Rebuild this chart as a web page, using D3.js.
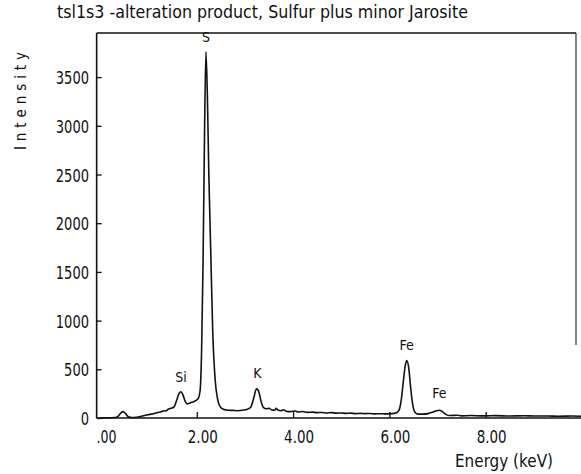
<!DOCTYPE html>
<html><head><meta charset="utf-8">
<script src="https://cdn.jsdelivr.net/npm/d3@7"></script>
<style>
html,body{margin:0;padding:0;background:#fff;}
text{font-family:"Liberation Sans Narrow","DejaVu Sans Condensed","DejaVu Sans",sans-serif;fill:#111;}
</style></head>
<body>
<svg id="chart" width="581" height="474"></svg>
<script>
const energy = [0.0,0.1,0.2,0.3,0.36,0.42,0.47,0.52,0.58,0.65,0.75,0.85,0.95,1.05,1.10,1.15,1.24,1.32,1.36,1.40,1.46,1.52,1.58,1.63,1.67,1.71,1.76,1.80,1.86,1.92,1.98,2.03,2.07,2.10,2.13,2.16,2.19,2.22,2.25,2.29,2.33,2.38,2.43,2.48,2.55,2.65,2.75,2.85,2.95,3.05,3.12,3.18,3.24,3.28,3.33,3.38,3.45,3.50,3.55,3.62,3.65,3.68,3.75,3.80,3.85,3.95,4.05,4.1,4.2,4.3,4.4,4.5,4.6,4.7,4.8,4.9,5.0,5.1,5.2,5.3,5.4,5.5,5.6,5.7,5.8,5.9,6.05,6.15,6.20,6.25,6.29,6.33,6.36,6.40,6.44,6.48,6.53,6.6,6.7,6.8,6.9,6.98,7.04,7.10,7.18,7.25,7.4,7.5,7.7,7.9,8.0,8.2,8.5,8.8,9.0,9.3,9.5,9.8,10.0];
const counts = [2,2,3,5,15,50,65,45,12,5,8,18,30,40,44,52,62,75,72,88,100,110,180,250,270,240,170,145,155,165,180,200,290,700,1600,2900,3760,3300,2500,1700,900,400,200,120,90,80,78,75,80,90,110,200,300,280,180,110,95,100,85,80,100,82,75,85,70,65,72,62,66,58,60,55,57,52,55,50,52,48,50,45,47,45,46,42,44,42,45,55,80,200,380,540,590,520,320,150,60,40,40,45,60,75,80,65,35,25,28,22,25,22,22,24,20,23,20,21,18,20,18];
const yTicks = [0,500,1000,1500,2000,2500,3000,3500];
const xTicks = [0,2,4,6,8];
const xTickLabels = [".00","2.00","4.00","6.00","8.00"];
const peakNames = ["S","Si","K","Fe","Fe"];
const peakEnergy = [2.19,1.67,3.26,6.36,7.04];
const peakCounts = [3760,270,300,590,80];

const svg = d3.select("#chart");
const x = d3.scaleLinear().domain([0,10]).range([100.5,582]);
const y = d3.scaleLinear().domain([0,4000]).range([418,28.4]);

const fLeft = x(-0.08), fRight = 576, fTop = 33, fBottom = y(0);

// frame
svg.append("line").attr("x1",fLeft).attr("x2",fLeft).attr("y1",fTop).attr("y2",fBottom).attr("stroke","#111").attr("stroke-width",1.6);
svg.append("line").attr("x1",fLeft).attr("x2",fRight).attr("y1",fTop).attr("y2",fTop).attr("stroke","#111").attr("stroke-width",1.6);
svg.append("line").attr("x1",fRight).attr("x2",fRight).attr("y1",fTop).attr("y2",345).attr("stroke","#333").attr("stroke-width",1.2);
svg.append("line").attr("x1",fLeft).attr("x2",581).attr("y1",fBottom).attr("y2",fBottom).attr("stroke","#111").attr("stroke-width",1.6);

// y ticks (inside)
const yAxis = d3.axisRight(y).tickValues(yTicks).tickSize(5).tickFormat("");
const gy = svg.append("g").attr("transform",`translate(${fLeft},0)`).call(yAxis);
gy.select(".domain").remove();
gy.selectAll("line").attr("stroke","#111").attr("stroke-width",1.3);
svg.selectAll(".ylab").data(yTicks).enter().append("text")
  .attr("x",89).attr("y",d=>y(d)+7).attr("text-anchor","end")
  .attr("font-size",17)
  .attr("textLength",d=>String(d).length*8.3).attr("lengthAdjust","spacingAndGlyphs")
  .text(d=>d);

// x ticks (inside, upward)
const xAxis = d3.axisTop(x).tickValues(xTicks.slice(1)).tickSize(6).tickFormat("");
const gx = svg.append("g").attr("transform",`translate(0,${fBottom})`).call(xAxis);
gx.select(".domain").remove();
gx.selectAll("line").attr("stroke","#111").attr("stroke-width",1.3);
svg.selectAll(".xlab").data(xTicks).enter().append("text")
  .attr("x",d=>x(d)+6).attr("y",443).attr("text-anchor","middle")
  .attr("font-size",17)
  .attr("textLength",(d,i)=>xTickLabels[i].length===3?20:30).attr("lengthAdjust","spacingAndGlyphs")
  .text((d,i)=>xTickLabels[i]);

// spectrum
const data = energy.map((e,i)=>({e, c:counts[i]}));
const line = d3.line().x(d=>x(d.e)).y(d=>y(d.c)).curve(d3.curveMonotoneX);
svg.append("path").datum(data).attr("d",line).attr("fill","none").attr("stroke","#111").attr("stroke-width",1.6);

// peak labels
const labBase = [42,382,378,350,398];
svg.selectAll(".pk").data(peakNames).enter().append("text")
  .attr("x",(d,i)=>x(peakEnergy[i])).attr("y",(d,i)=>labBase[i])
  .attr("text-anchor","middle").attr("font-size",14).text(d=>d);

// title
svg.append("text").attr("x",57).attr("y",18).attr("font-size",17)
  .attr("textLength",411).attr("lengthAdjust","spacingAndGlyphs")
  .text("tsl1s3 -alteration product, Sulfur plus minor Jarosite");

// axis titles
svg.append("text").attr("x",455).attr("y",467).attr("font-size",17)
  .attr("textLength",98).attr("lengthAdjust","spacingAndGlyphs")
  .text("Energy (keV)");
svg.append("text").attr("transform","translate(26,150) rotate(-90)")
  .attr("font-size",15).attr("textLength",98).attr("lengthAdjust","spacing")
  .text("Intensity");
</script>
</body></html>
